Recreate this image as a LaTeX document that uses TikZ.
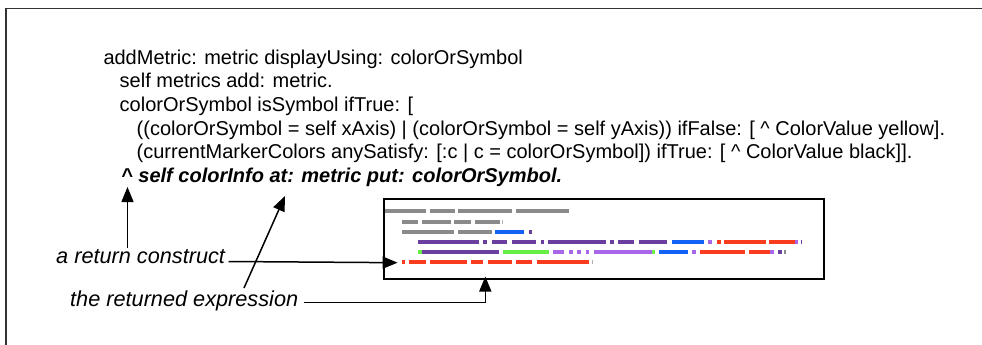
\documentclass[tikz,border=0pt]{standalone}
\usepackage{fontspec}
\setmainfont{Liberation Sans}
\usetikzlibrary{arrows.meta}
\definecolor{bgray}{HTML}{8A8A8A}
\definecolor{blgray}{HTML}{B0B0B0}
\definecolor{bblue}{HTML}{1462F5}
\definecolor{bpurple}{HTML}{6B3FA0}
\definecolor{blpurple}{HTML}{A866E8}
\definecolor{bred}{HTML}{FA3C1E}
\definecolor{bgreen}{HTML}{66EE44}
\definecolor{frame}{HTML}{333333}
\tikzset{
  codeline/.style={anchor=base west, inner sep=0pt, font=\fontsize{20}{24}\selectfont},
  lbl/.style={anchor=base west, inner sep=0pt, font=\fontsize{21.7}{26}\selectfont\itshape},
  arr/.style={line width=1.5pt, -{Triangle[length=15pt,width=12pt]}},
  bar/.style={line width=4pt, line cap=butt},
}
\begin{document}
\begin{tikzpicture}[x=1pt,y=-1pt]
\useasboundingbox (0,0) rectangle (982,345);
% outer frame (only top and left visible)
\draw[frame, line width=1.6pt] (6,345) -- (6,8.5) -- (982,8.5);
% code lines
\node[codeline] (c1) at (103.3,64.5) {addMetric: metric displayUsing: colorOrSymbol};
\node[codeline] (c2) at (119.5,88) {self metrics add: metric.};
\node[codeline] (c3) at (119.5,111.5) {colorOrSymbol isSymbol ifTrue: [};
\node[codeline] (c4) at (136.5,135) {((colorOrSymbol = self xAxis) | (colorOrSymbol = self yAxis)) ifFalse: [ \textasciicircum\ ColorValue yellow].};
\node[codeline] (c5) at (136.5,158.5) {(currentMarkerColors anySatisfy: [:c | c = colorOrSymbol]) ifTrue: [ \textasciicircum\ ColorValue black]].};
\node[codeline, font=\fontsize{20}{24}\selectfont\bfseries\itshape] (c6) at (121,182) {\textasciicircum\ self colorInfo at: metric put: colorOrSymbol.};
% labels
\node[lbl] (lret) at (56,263.5) {a return construct};
\node[lbl] (lexp) at (70,306.5) {the returned expression};
% inner box
\node[draw, line width=2pt, minimum width=440.2pt, minimum height=80pt, anchor=north west, inner sep=0pt] (box) at (382.6,197.7) {};
% bars
\begin{scope}[xshift=370pt, x=0.33333pt]
\foreach \a/\b in {45/168,180/255,265/425,438/598}
  \draw[bar, bgray] (\a,211.3) -- (\b,211.3);
\foreach \a/\b in {95/143,155/242,253/302,315/390}
  \draw[bar, bgray] (\a,221.5) -- (\b,221.5);
\draw[bar, blgray] (396,221.5) -- (400,221.5);
\foreach \a/\b in {95/253,265/365}
  \draw[bar, bgray] (\a,231.7) -- (\b,231.7);
\draw[bar, bblue] (376,231.7) -- (463,231.7);
\draw[bar, bpurple] (476,231.7) -- (486,231.7);
\foreach \a/\b in {143/327,340/350,365/412,425/498,512/522,535/708,720/733,745/792,806/892}
  \draw[bar, bpurple] (\a,241.9) -- (\b,241.9);
\draw[bar, bblue] (905,241.9) -- (1002,241.9);
\draw[bar, blpurple] (1015,241.9) -- (1025,241.9);
\foreach \a/\b in {1040/1052,1063/1187,1198/1275}
  \draw[bar, bred] (\a,241.9) -- (\b,241.9);
\draw[bar, blpurple] (1275,241.9) -- (1285,241.9);
\draw[bar, bpurple] (1292,241.9) -- (1297,241.9);
\draw[bar, bgreen] (143,252.1) -- (155,252.1);
\draw[bar, bpurple] (155,252.1) -- (388,252.1);
\draw[bar, bgreen] (400,252.1) -- (536,252.1);
\foreach \a/\b in {548/582,597/608,620/632,647/657,672/845}
  \draw[bar, blpurple] (\a,252.1) -- (\b,252.1);
\draw[bar, bgreen] (845,252.1) -- (855,252.1);
\draw[bar, bblue] (868,252.1) -- (953,252.1);
\draw[bar, blpurple] (965,252.1) -- (977,252.1);
\foreach \a/\b in {990/1125,1138/1200}
  \draw[bar, bred] (\a,252.1) -- (\b,252.1);
\draw[bar, blpurple] (1200,252.1) -- (1212,252.1);
\draw[bar, bpurple] (1225,252.1) -- (1235,252.1);
\draw[bar, bgray] (1242,252.1) -- (1247,252.1);
\foreach \a/\b in {95/105,118/168,180/290,303/340,353/425,438/487,500/658}
  \draw[bar, bred] (\a,262.3) -- (\b,262.3);
\draw[bar, blgray] (665,262.3) -- (670,262.3);
\end{scope}
% arrow end points
\coordinate (upbase) at (127.5,248);
\coordinate (uptip) at (127.5,187);
\coordinate (retstart) at (228.5,261.5);
\coordinate (rettip) at (397.6,262.7);
\coordinate (diagbase) at (244,288);
\coordinate (diagtip) at (285,196);
\coordinate (expstart) at (303.7,302.7);
\coordinate (exptip) at (485.3,276.5);
% arrows
\draw[arr] (upbase) -- (uptip);
\draw[arr] (retstart) -- (rettip);
\draw[arr] (diagbase) -- (diagtip);
\draw[arr] (expstart) -| (exptip);
\end{tikzpicture}
\end{document}
